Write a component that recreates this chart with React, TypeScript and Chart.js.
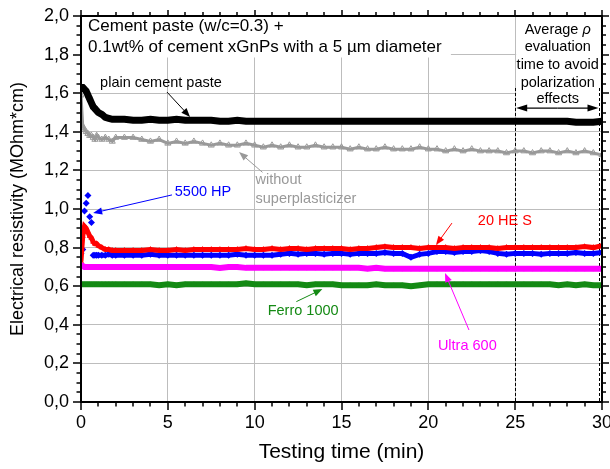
import React, { useEffect, useRef } from 'react';
import { Chart, registerables } from 'chart.js';
Chart.register(...registerables);

const FONT = '"Liberation Sans", Arial, Helvetica, sans-serif';
const FRAME_COLOR = '#000000';

// Testing time (min)
const times = [
  0, 0.1, 0.2, 0.3, 0.4, 0.5, 0.6, 0.7, 0.8, 0.9, 1.0, 1.2, 1.4, 1.6, 1.8, 2.0,
  2.5, 3, 3.5, 4, 4.5, 5, 5.5, 6,
  6.5, 7, 7.5, 8, 8.5, 9, 9.5, 10,
  10.5, 11, 11.5, 12, 12.5, 13, 13.5, 14,
  14.5, 15, 15.5, 16, 16.5, 17, 17.5, 18,
  18.5, 19, 19.5, 20, 20.5, 21, 21.5, 22,
  22.5, 23, 23.5, 24, 24.5, 25, 25.5, 26,
  26.5, 27, 27.5, 28, 28.5, 29, 29.5, 30,
];

// Electrical resistivity (MOhm*cm)
const plainPaste = [
  1.63, 1.63, 1.62, 1.61, 1.59, 1.57, 1.55, 1.53, 1.52, 1.51, 1.50, 1.49, 1.475, 1.47, 1.465, 1.465,
  1.465, 1.46, 1.46, 1.465, 1.46, 1.46, 1.465, 1.46,
  1.46, 1.46, 1.46, 1.455, 1.455, 1.46, 1.455, 1.455,
  1.455, 1.455, 1.455, 1.455, 1.455, 1.455, 1.455, 1.455,
  1.455, 1.455, 1.455, 1.455, 1.455, 1.455, 1.455, 1.455,
  1.455, 1.455, 1.455, 1.455, 1.455, 1.455, 1.455, 1.455,
  1.455, 1.455, 1.455, 1.455, 1.455, 1.455, 1.455, 1.455,
  1.455, 1.455, 1.455, 1.455, 1.45, 1.45, 1.45, 1.455,
];
const withoutSP = [
  1.59, 1.43, 1.41, 1.40, 1.39, 1.38, 1.38, 1.37, 1.36, 1.38, 1.37, 1.36, 1.37, 1.36, 1.35, 1.37,
  1.37, 1.37, 1.36, 1.35, 1.36, 1.34, 1.35, 1.34,
  1.35, 1.34, 1.33, 1.34, 1.33, 1.33, 1.34, 1.33,
  1.32, 1.33, 1.32, 1.33, 1.32, 1.32, 1.33, 1.32,
  1.32, 1.32, 1.31, 1.32, 1.31, 1.31, 1.32, 1.31,
  1.31, 1.31, 1.32, 1.31, 1.31, 1.30, 1.31, 1.30,
  1.31, 1.30, 1.30, 1.30, 1.29, 1.30, 1.30, 1.29,
  1.30, 1.30, 1.29, 1.30, 1.29, 1.30, 1.29, 1.28,
];
const hp5500 = [
  0.77, 0.79, 0.99, 1.03, 1.07, 0.96, 0.93, 0.76, 0.76, 0.76, 0.76, 0.76, 0.76, 0.765, 0.76, 0.76,
  0.76, 0.76, 0.76, 0.765, 0.76, 0.76, 0.76, 0.76,
  0.76, 0.76, 0.76, 0.76, 0.76, 0.765, 0.76, 0.76,
  0.76, 0.76, 0.765, 0.77, 0.765, 0.77, 0.77, 0.765,
  0.77, 0.77, 0.765, 0.77, 0.77, 0.77, 0.775, 0.77,
  0.77, 0.75, 0.765, 0.77, 0.78, 0.78, 0.775, 0.78,
  0.78, 0.785, 0.78, 0.77, 0.765, 0.77, 0.77, 0.77,
  0.765, 0.77, 0.77, 0.77, 0.775, 0.77, 0.77, 0.775,
];
const he20S = [
  0.73, 0.86, 0.91, 0.90, 0.88, 0.86, 0.85, 0.83, 0.82, 0.82, 0.81, 0.80, 0.79, 0.79, 0.785, 0.785,
  0.785, 0.785, 0.785, 0.79, 0.785, 0.785, 0.79, 0.785,
  0.79, 0.79, 0.79, 0.79, 0.79, 0.79, 0.795, 0.79,
  0.79, 0.795, 0.79, 0.795, 0.795, 0.79, 0.795, 0.795,
  0.795, 0.795, 0.79, 0.795, 0.795, 0.80, 0.805, 0.80,
  0.80, 0.80, 0.795, 0.80, 0.80, 0.80, 0.795, 0.80,
  0.80, 0.80, 0.80, 0.795, 0.80, 0.80, 0.80, 0.80,
  0.80, 0.80, 0.80, 0.80, 0.80, 0.805, 0.80, 0.81,
];
const ultra600 = [
  0.70, 0.705, 0.70, 0.70, 0.70, 0.70, 0.70, 0.70, 0.70, 0.70, 0.70, 0.70, 0.70, 0.70, 0.70, 0.70,
  0.70, 0.70, 0.70, 0.70, 0.70, 0.70, 0.70, 0.70,
  0.70, 0.70, 0.70, 0.695, 0.70, 0.70, 0.695, 0.695,
  0.695, 0.695, 0.695, 0.695, 0.695, 0.695, 0.695, 0.695,
  0.695, 0.695, 0.695, 0.695, 0.69, 0.695, 0.69, 0.69,
  0.69, 0.69, 0.69, 0.69, 0.69, 0.69, 0.69, 0.69,
  0.69, 0.69, 0.69, 0.69, 0.69, 0.69, 0.69, 0.69,
  0.69, 0.69, 0.69, 0.69, 0.69, 0.69, 0.69, 0.69,
];
const ferro1000 = [
  0.61, 0.61, 0.61, 0.61, 0.61, 0.61, 0.61, 0.61, 0.61, 0.61, 0.61, 0.61, 0.61, 0.61, 0.61, 0.61,
  0.61, 0.61, 0.61, 0.61, 0.605, 0.61, 0.605, 0.61,
  0.61, 0.61, 0.61, 0.61, 0.61, 0.61, 0.615, 0.61,
  0.61, 0.61, 0.61, 0.61, 0.61, 0.605, 0.61, 0.61,
  0.61, 0.605, 0.605, 0.605, 0.605, 0.61, 0.605, 0.605,
  0.605, 0.60, 0.605, 0.61, 0.61, 0.61, 0.61, 0.61,
  0.61, 0.61, 0.61, 0.61, 0.61, 0.61, 0.61, 0.61,
  0.61, 0.61, 0.605, 0.61, 0.605, 0.61, 0.605, 0.605,
];

const X_MIN = 0, X_MAX = 30, X_STEP = 5, X_MINOR = 1;
const Y_MIN = 0, Y_MAX = 2, Y_STEP = 0.2, Y_MINOR = 0.05;

const BLACK = '#000000';
const GRAY = '#999999';
const BLUE = '#0000ff';
const RED = '#ff0000';
const MAGENTA = '#ff00ff';
const GREEN = '#148a14';

type Label = { lines: string[]; t: number; v: number; color: string; from: [number, number]; to: [number, number] };
const labels: Label[] = [
  { lines: ['plain cement paste'], t: 1.1, v: 1.653, color: BLACK, from: [4.95, 1.606], to: [6.28, 1.477] },
  { lines: ['without', 'superplasticizer'], t: 10.05, v: 1.15, color: GRAY, from: [10.45, 1.19], to: [9.1, 1.295] },
  { lines: ['5500 HP'], t: 5.4, v: 1.088, color: BLUE, from: [5.24, 1.073], to: [0.7, 0.979] },
  { lines: ['20 HE S'], t: 22.85, v: 0.938, color: RED, from: [21.36, 0.927], to: [20.44, 0.813] },
  { lines: ['Ultra 600'], t: 20.55, v: 0.29, color: MAGENTA, from: [22.34, 0.373], to: [20.96, 0.668] },
  { lines: ['Ferro 1000'], t: 10.75, v: 0.471, color: GREEN, from: [12.4, 0.52], to: [13.9, 0.585] },
];

function arrow(ctx: CanvasRenderingContext2D, x1: number, y1: number, x2: number, y2: number, color: string, head = 9, half = 3.5, lw = 1) {
  const ang = Math.atan2(y2 - y1, x2 - x1);
  const c = Math.cos(ang), s = Math.sin(ang);
  ctx.save();
  ctx.strokeStyle = color;
  ctx.fillStyle = color;
  ctx.lineWidth = lw;
  ctx.beginPath();
  ctx.moveTo(x1, y1);
  ctx.lineTo(x2 - c * head * 0.8, y2 - s * head * 0.8);
  ctx.stroke();
  ctx.beginPath();
  ctx.moveTo(x2, y2);
  ctx.lineTo(x2 - c * head - s * half, y2 - s * head + c * half);
  ctx.lineTo(x2 - c * head + s * half, y2 - s * head - c * half);
  ctx.closePath();
  ctx.fill();
  ctx.restore();
}

function drawFrame(chart: any) {
  const ctx: CanvasRenderingContext2D = chart.ctx;
  const area = chart.chartArea;
  const x = chart.scales.x, y = chart.scales.y;
  ctx.save();
  ctx.fillStyle = FRAME_COLOR;
  const L = Math.round(area.left), T = Math.round(area.top), R = Math.round(area.right), B = Math.round(area.bottom);
  ctx.fillRect(L - 1, T - 1, R - L + 2, 2);
  ctx.fillRect(L - 1, B - 1, R - L + 2, 2);
  ctx.fillRect(L - 1, T - 1, 2, B - T + 2);
  ctx.fillRect(R - 1, T - 1, 2, B - T + 2);
  const nx = Math.round((X_MAX - X_MIN) / X_MINOR);
  const mx = Math.round(X_STEP / X_MINOR);
  for (let k = 0; k <= nx; k++) {
    const major = k % mx === 0;
    const px = Math.round(x.getPixelForValue(X_MIN + k * X_MINOR));
    ctx.fillRect(px - 0.75, B, 1.5, major ? 8 : 4.5);
    const up = major ? 6 : 4;
    ctx.fillRect(px - 0.75, T - up, 1.5, up);
  }
  const ny = Math.round((Y_MAX - Y_MIN) / Y_MINOR);
  const my = Math.round(Y_STEP / Y_MINOR);
  for (let k = 0; k <= ny; k++) {
    const major = k % my === 0;
    const py = Math.round(y.getPixelForValue(Y_MIN + k * Y_MINOR));
    const l = major ? 8 : 4.5;
    ctx.fillRect(L - l, py - 0.75, l, 1.5);
    ctx.fillRect(R, py - 0.75, major ? 7 : 4, 1.5);
  }
  ctx.restore();
}

const decor = {
  id: 'decor',
  beforeDatasetsDraw(chart: any) {
    const ctx: CanvasRenderingContext2D = chart.ctx;
    const area = chart.chartArea;
    const x = chart.scales.x, y = chart.scales.y;
    ctx.save();
    ctx.fillStyle = '#ffffff';
    ctx.fillRect(area.left + 1, area.top + 1, x.getPixelForValue(21.3) - area.left - 1, y.getPixelForValue(1.785) - area.top - 1);
    ctx.fillRect(x.getPixelForValue(25) + 1, area.top + 1, area.right - x.getPixelForValue(25) - 2, y.getPixelForValue(1.54) - area.top);
    ctx.fillStyle = '#000';
    ctx.font = `17px ${FONT}`;
    ctx.textBaseline = 'middle';
    ctx.textAlign = 'left';
    ctx.fillText('Cement paste (w/c=0.3) +', area.left + 7, y.getPixelForValue(1.944));
    ctx.fillText('0.1wt% of cement xGnPs with a 5 \u00b5m diameter', area.left + 7, y.getPixelForValue(1.84));
    const cx = x.getPixelForValue(27.45);
    ctx.font = `14.5px ${FONT}`;
    const avg = 'Average ';
    const w1 = ctx.measureText(avg).width;
    ctx.font = `italic 14.5px ${FONT}`;
    const w2 = ctx.measureText('\u03c1').width;
    ctx.textAlign = 'left';
    ctx.font = `14.5px ${FONT}`;
    ctx.fillText(avg, cx - (w1 + w2) / 2, y.getPixelForValue(1.927));
    ctx.font = `italic 14.5px ${FONT}`;
    ctx.fillText('\u03c1', cx - (w1 + w2) / 2 + w1, y.getPixelForValue(1.927));
    ctx.textAlign = 'center';
    ctx.font = `14.5px ${FONT}`;
    ctx.fillText('evaluation', cx, y.getPixelForValue(1.839));
    ctx.fillText('time to avoid', cx, y.getPixelForValue(1.746));
    ctx.fillText('polarization', cx, y.getPixelForValue(1.653));
    ctx.fillText('effects', cx, y.getPixelForValue(1.57));
    ctx.strokeStyle = '#000';
    ctx.lineWidth = 1;
    ctx.setLineDash([3, 2]);
    for (const t of [25, 29.8]) {
      const px = Math.round(x.getPixelForValue(t)) + 0.5;
      ctx.beginPath();
      ctx.moveTo(px, y.getPixelForValue(1.627));
      ctx.lineTo(px, area.bottom);
      ctx.stroke();
    }
    ctx.setLineDash([]);
    ctx.restore();
    const ay = y.getPixelForValue(1.523);
    const x25 = x.getPixelForValue(25) + 1, x30 = x.getPixelForValue(29.8);
    arrow(ctx, (x25 + x30) / 2, ay, x25, ay, '#000', 11, 3.5, 1.2);
    arrow(ctx, (x25 + x30) / 2, ay, x30, ay, '#000', 11, 3.5, 1.2);
  },
  afterDatasetsDraw(chart: any) {
    const ctx: CanvasRenderingContext2D = chart.ctx;
    const x = chart.scales.x, y = chart.scales.y;
    for (const l of labels) {
      ctx.save();
      ctx.fillStyle = l.color;
      ctx.font = `14.5px ${FONT}`;
      ctx.textAlign = 'left';
      ctx.textBaseline = 'middle';
      for (let i = 0; i < l.lines.length; i++) {
        ctx.fillText(l.lines[i], x.getPixelForValue(l.t), y.getPixelForValue(l.v) + i * 19);
      }
      ctx.restore();
      arrow(ctx, x.getPixelForValue(l.from[0]), y.getPixelForValue(l.from[1]), x.getPixelForValue(l.to[0]), y.getPixelForValue(l.to[1]), l.color, 9, 3.5, 1);
    }
  },
  afterDraw(chart: any) {
    drawFrame(chart);
  },
};

function series(vals: number[]) {
  return times.map((t, i) => ({ x: t, y: vals[i] }));
}

export default function App() {
  const ref = useRef<HTMLCanvasElement>(null);
  useEffect(() => {
    document.body.style.margin = '0';
    const canvas = ref.current!;
    const chart = new Chart(canvas, {
      type: 'scatter',
      data: {
        datasets: [
          { label: 'Ferro 1000', data: series(ferro1000), showLine: true, borderColor: GREEN, backgroundColor: GREEN, borderWidth: 6, pointRadius: 2.5, pointStyle: 'circle', pointBorderWidth: 0 },
          { label: 'Ultra 600', data: series(ultra600), showLine: true, borderColor: MAGENTA, backgroundColor: MAGENTA, borderWidth: 6, pointRadius: 2.5, pointStyle: 'circle', pointBorderWidth: 0 },
          { label: '20 HE S', data: series(he20S), showLine: true, borderColor: RED, backgroundColor: RED, borderWidth: 5, pointRadius: 3.5, pointStyle: 'triangle', pointBorderWidth: 0 },
          {
            label: '5500 HP', data: series(hp5500), showLine: true, borderColor: BLUE, backgroundColor: BLUE, borderWidth: 5, pointRadius: 3.5, pointStyle: 'rectRot', pointBorderWidth: 0,
            segment: { borderColor: (c: any) => (c.p0.parsed.x < 0.65 ? 'rgba(0,0,0,0)' : BLUE) },
          },
          { label: 'without superplasticizer', data: series(withoutSP), showLine: true, borderColor: GRAY, backgroundColor: 'rgba(0,0,0,0)', borderWidth: 3, pointRadius: 3.5, pointStyle: 'triangle', pointBorderColor: GRAY, pointBorderWidth: 1 },
          { label: 'plain cement paste', data: series(plainPaste), showLine: true, borderColor: BLACK, backgroundColor: BLACK, borderWidth: 7, pointRadius: 3.5, pointStyle: 'rect', pointBorderWidth: 0 },
        ],
      },
      options: {
        responsive: false,
        animation: false,
        events: [],
        layout: { padding: { top: 16, right: 8, left: 0, bottom: 0 } },
        plugins: { legend: { display: false }, tooltip: { enabled: false } },
        scales: {
          x: {
            type: 'linear', min: X_MIN, max: X_MAX,
            afterFit: (s: any) => { s.height = 67; s.paddingLeft = 0; s.paddingRight = 0; },
            ticks: { stepSize: X_STEP, padding: 10, color: '#000', font: { family: FONT, size: 18 }, maxRotation: 0 },
            grid: { color: '#bdbdbd', lineWidth: 1, drawTicks: false },
            border: { display: false },
            title: { display: true, text: 'Testing time (min)', color: '#000', font: { family: FONT, size: 21 }, padding: { top: 0, bottom: 4 } },
          },
          y: {
            type: 'linear', min: Y_MIN, max: Y_MAX,
            afterFit: (s: any) => { s.width = 81; s.paddingTop = 0; s.paddingBottom = 0; },
            ticks: { stepSize: Y_STEP, padding: 12, color: '#000', font: { family: FONT, size: 18 }, callback: (v: any) => Number(v).toFixed(1).replace('.', ',') },
            grid: { color: '#bdbdbd', lineWidth: 1, drawTicks: false },
            border: { display: false },
            title: { display: true, text: 'Electrical resistivity (MOhm*cm)', color: '#000', font: { family: FONT, size: 18 }, padding: { top: 7, bottom: 0 } },
          },
        },
      },
      plugins: [decor],
    });
    return () => chart.destroy();
  }, []);
  return (
    <div style={{ width: 610, height: 469 }}>
      <canvas ref={ref} width={610} height={469} style={{ width: 610, height: 469, display: 'block' }} />
    </div>
  );
}
